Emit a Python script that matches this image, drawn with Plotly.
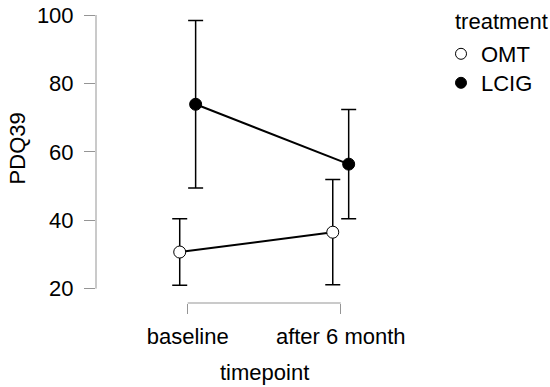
import plotly.graph_objects as go

categories = ["baseline", "after 6 month"]
x_index = [0, 1]
groups = ["OMT", "LCIG"]
omt_mean = [30.7, 36.5]
omt_err = [9.7, 15.4]
lcig_mean = [73.9, 56.4]
lcig_err = [24.5, 16.0]
y_ticks = [20, 40, 60, 80, 100]

dodge = 0.052
FONT = "Liberation Sans, Arial, Helvetica, sans-serif"
AXIS_GRAY = "#959595"
FS = 22

fig = go.Figure()

def add_series(name, means, errs, offset, fill, legend_id):
    xs = [i + offset for i in x_index]
    fig.add_trace(go.Scatter(
        x=xs, y=means, mode="lines+markers", name=name, showlegend=False,
        line=dict(color="black", width=2),
        marker=dict(size=12, color=fill, line=dict(color="black", width=1)),
        error_y=dict(type="data", array=errs, symmetric=True, color="black",
                     thickness=1.5, width=7.5),
        cliponaxis=False,
    ))
    fig.add_trace(go.Scatter(
        x=[None], y=[None], mode="markers", name=name, showlegend=True,
        legend=legend_id,
        marker=dict(size=11, color=fill, line=dict(color="black", width=1)),
    ))

add_series(groups[0], omt_mean, omt_err, -dodge, "white", "legend")
add_series(groups[1], lcig_mean, lcig_err, dodge, "black", "legend2")

# range-limited axis lines (R base-graphics style)
fig.add_shape(type="line", xref="paper", yref="y", x0=0, x1=0,
              y0=y_ticks[0], y1=y_ticks[-1], line=dict(color=AXIS_GRAY, width=1))
fig.add_shape(type="line", xref="x", yref="paper", x0=x_index[0], x1=x_index[-1],
              y0=0, y1=0, line=dict(color=AXIS_GRAY, width=1))

fig.add_annotation(text="timepoint", xref="x", yref="paper", x=0.5, y=0,
                   yshift=-69, yanchor="middle", xanchor="center", showarrow=False,
                   font=dict(size=FS, color="black", family=FONT))
fig.add_annotation(text="PDQ39", xref="paper", yref="y", x=0, y=61, textangle=-90,
                   xshift=-79, xanchor="center", yanchor="middle", showarrow=False,
                   font=dict(size=FS, color="black", family=FONT))
fig.add_annotation(text="treatment", xref="paper", yref="paper", x=(453.5 - 96) / 324,
                   y=(303 - 21) / 288, xanchor="left", yanchor="middle", showarrow=False,
                   font=dict(size=FS, color="black", family=FONT))

legend_common = dict(xanchor="left", yanchor="middle", font=dict(size=FS),
                     bgcolor="rgba(0,0,0,0)", itemwidth=30)

fig.update_layout(
    width=550, height=387,
    margin=dict(l=96, r=130, t=15, b=84, autoexpand=False),
    paper_bgcolor="white", plot_bgcolor="white",
    font=dict(family=FONT, size=FS, color="black"),
    xaxis=dict(range=[-0.599, 1.518], tickmode="array", tickvals=x_index,
               ticktext=categories, showgrid=False, zeroline=False, showline=False,
               ticks="outside", ticklen=10, tickcolor=AXIS_GRAY, tickwidth=1,
               tickfont=dict(size=FS, color="black"), ticklabelstandoff=4,
               automargin=False),
    yaxis=dict(range=[15.8, 100], tickmode="array", tickvals=y_ticks,
               showgrid=False, zeroline=False, showline=False,
               ticks="outside", ticklen=11, tickcolor=AXIS_GRAY, tickwidth=1,
               tickfont=dict(size=FS, color="black"), ticklabelstandoff=6,
               automargin=False),
    legend=dict(x=(441 - 96) / 324, y=(303 - 54) / 288, **legend_common),
    legend2=dict(x=(441 - 96) / 324, y=(303 - 83) / 288, **legend_common),
    showlegend=True,
)

fig.write_html("out.html", config={"displayModeBar": False},
               post_script="document.body.style.margin='0';document.body.style.padding='0';")
